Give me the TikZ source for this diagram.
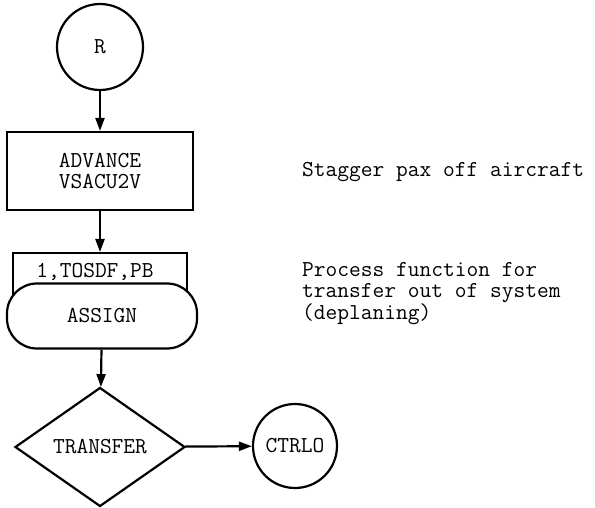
\documentclass[tikz,border=0pt]{standalone}
\usepackage{fontspec}
\usetikzlibrary{arrows.meta,shapes.geometric}
\tikzset{
  line/.style={line width=2.2pt},
  arr/.style={line, -{Triangle[length=13pt,width=9pt]}},
  lbl/.style={font=\ttfamily\fontsize{22.8}{21}\selectfont},
  term/.style={line, circle, draw, minimum size=86pt, inner sep=0pt, lbl},
  block/.style={line, rectangle, draw, align=center, inner sep=0pt, lbl},
  stad/.style={line, rectangle, draw, fill=white, rounded corners=30pt, inner sep=0pt, lbl},
  dec/.style={line, diamond, draw, aspect=1.43, minimum width=170pt, minimum height=119pt, inner sep=0pt, lbl},
  note/.style={anchor=west, align=left, inner sep=0pt, lbl}
}
\begin{document}
\begin{tikzpicture}[x=1pt,y=-1pt]
\useasboundingbox (0,0) rectangle (595,508);
\node[term] (r) at (100,47) {R};
\node[block, minimum width=186pt, minimum height=78pt] (adv) at (100,171) {ADVANCE\\VSACU2V};
\node[block, minimum width=174pt, minimum height=42pt, anchor=north] (par) at (100,252) {};
\node[lbl, anchor=center] (parlbl) at (95,272) {1,TOSDF,PB};
\node[stad, minimum width=190pt, minimum height=65pt] (asg) at (102,316) {ASSIGN};
\node[dec] (tr) at (100,447) {TRANSFER};
\node[term, minimum size=84pt] (ct) at (295,446) {CTRLO};
\node[note] (n1) at (302,172) {Stagger pax off aircraft};
\node[note] (n2) at (302,294) {Process function for\\transfer out of system\\(deplaning)};
\draw[arr] (r) -- (adv);
\draw[arr] (adv) -- (par);
\draw[arr] (asg) -- (tr);
\draw[arr] (tr) -- (ct);
\end{tikzpicture}
\end{document}
